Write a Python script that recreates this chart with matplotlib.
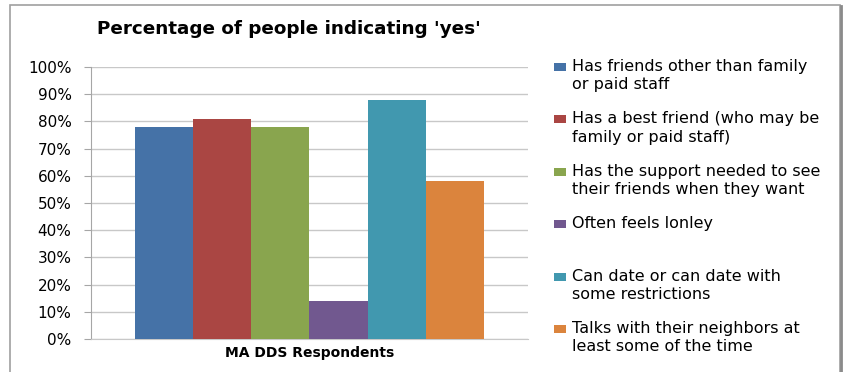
import matplotlib
matplotlib.use("Agg")
import matplotlib.pyplot as plt
from matplotlib.patches import Rectangle
from matplotlib.lines import Line2D
from matplotlib.ticker import PercentFormatter

# ---------------------------------------------------------------------------
# Data
# ---------------------------------------------------------------------------

category = "MA DDS Respondents"
series_labels = [
    "Has friends other than family\nor paid staff",
    "Has a best friend (who may be\nfamily or paid staff)",
    "Has the support needed to see\ntheir friends when they want",
    "Often feels lonley",
    "Can date or can date with\nsome restrictions",
    "Talks with their neighbors at\nleast some of the time",
]
series_values = [78, 81, 78, 14, 88, 58]
series_colors = ["#4572A7", "#AA4643", "#89A54E", "#71588F", "#4198AF", "#DB843D"]

W, H = 845, 372

fig = plt.figure(figsize=(W / 100, H / 100), dpi=100)
fig.patch.set_facecolor("white")

# outer chart frame (bottom edge falls off the picture)
fig.patches.append(Rectangle((10 / W, -0.05), 830 / W, 1.05 - 5 / H,
                             transform=fig.transFigure, fill=False,
                             edgecolor="#a0a0a0", linewidth=1.2))
# darker shadow on the right edge
fig.lines.append(Line2D([841 / W, 841 / W], [0, 1 - 6 / H],
                        transform=fig.transFigure, color="#8a8a8a",
                        linewidth=2))

ax = fig.add_axes([91 / W, 1 - 339 / H, (528 - 91) / W, (339 - 67) / H])

n = len(series_values)
group = 0.8
w = group / n
for i, (val, col) in enumerate(zip(series_values, series_colors)):
    ax.bar(-group / 2 + w * (i + 0.5), val, width=w, color=col,
           edgecolor="none", zorder=3)

ax.set_xlim(-0.5, 0.5)
ax.set_ylim(0, 100)
ax.set_yticks(range(0, 101, 10))
ax.yaxis.set_major_formatter(PercentFormatter(decimals=0))
ax.set_xticks([0])
ax.set_xticklabels([category], fontsize=10, fontweight="bold")
ax.tick_params(axis="x", length=0, pad=5)
ax.tick_params(axis="y", length=5, width=0.8, color="#a6a6a6",
               labelsize=11, pad=9)
ax.grid(axis="y", color="#c8c8c8", linewidth=1, zorder=0)
for side in ["top", "right"]:
    ax.spines[side].set_visible(False)
ax.spines["left"].set_color("#a6a6a6")
ax.spines["bottom"].set_color("#c8c8c8")

fig.text(97 / W, 1 - 29 / H, "Percentage of people indicating 'yes'",
         fontsize=13.2, fontweight="bold", va="center", ha="left")

# legend drawn by hand so squares sit beside the first line of each label
y0, step = 67, 52.4
for i, (lab, col) in enumerate(zip(series_labels, series_colors)):
    yc = y0 + step * i
    fig.patches.append(Rectangle((554 / W, 1 - (yc + 4) / H), 12 / W, 8 / H,
                                 transform=fig.transFigure, facecolor=col,
                                 edgecolor="none"))
    fig.text(572 / W, 1 - (yc - 8) / H, lab, fontsize=11.5, va="top",
             ha="left", linespacing=1.28)

fig.savefig("out.png", dpi=100)
